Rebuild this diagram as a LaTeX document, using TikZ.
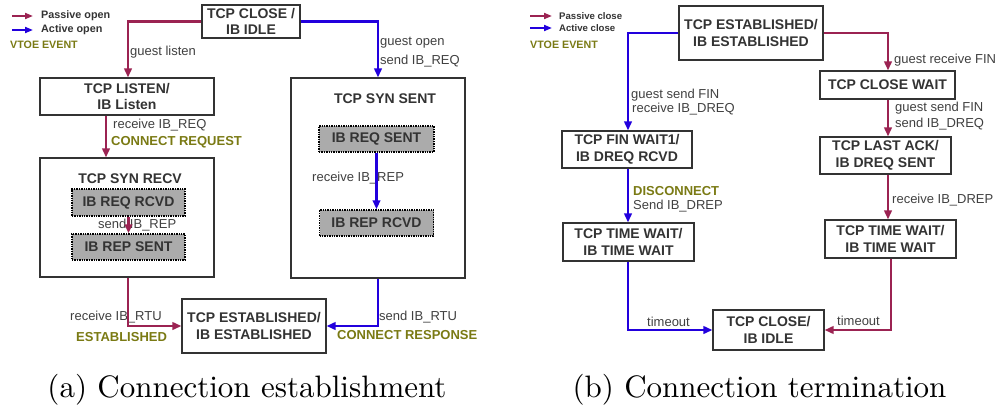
\documentclass[tikz,border=0pt]{standalone}
\usepackage{fontspec}
\newfontfamily\arialf{Liberation Sans}
\newfontfamily\capfont{lmroman10-regular.otf}
\usetikzlibrary{arrows.meta}
\definecolor{pcol}{HTML}{9B2352}
\definecolor{bcol}{HTML}{2200DD}
\definecolor{ocol}{HTML}{7A7A14}
\definecolor{tcol}{HTML}{333333}
\definecolor{lcol}{HTML}{404040}
\definecolor{gfill}{HTML}{ABABAB}
\begin{document}
\begin{tikzpicture}[x=1pt,y=-1pt,
  box/.style 2 args={draw=tcol, line width=1.1pt, fill=white, text=tcol,
    font=\arialf\bfseries\fontsize{14}{16.5}\selectfont, align=center,
    inner sep=0pt, minimum width=#1, minimum height=#2},
  gbox/.style 2 args={draw=black, densely dotted, line width=1.4pt, fill=gfill, text=tcol,
    font=\arialf\bfseries\fontsize{14}{16.5}\selectfont, align=center,
    inner sep=0pt, minimum width=#1, minimum height=#2},
  ttl/.style={text=tcol, font=\arialf\bfseries\fontsize{14}{16.5}\selectfont, inner sep=0pt},
  lbl/.style={anchor=west, text=lcol, font=\arialf\fontsize{13}{15}\selectfont, inner sep=0pt},
  ev/.style={anchor=west, text=ocol, font=\arialf\bfseries\fontsize{13}{15}\selectfont, inner sep=0pt},
  leg/.style={anchor=west, text=tcol, font=\arialf\bfseries\fontsize{#1}{12}\selectfont, inner sep=0pt},
  legev/.style={anchor=west, text=ocol, font=\arialf\bfseries\fontsize{10.7}{12}\selectfont, inner sep=0pt},
  pa/.style={draw=pcol, line width=2.2pt, -{Triangle[length=9pt,width=7.5pt]}},
  ba/.style={draw=bcol, line width=2.2pt, -{Triangle[length=9pt,width=7.5pt]}},
  captxt/.style={inner sep=0pt, font=\capfont\fontsize{31}{36}\selectfont}
]
\useasboundingbox (0,0) rectangle (998,415);

% ---------------- (a) Connection establishment ----------------
% legend
\coordinate (la1) at (12,16); \coordinate (la2) at (33,16);
\coordinate (lb1) at (12,30); \coordinate (lb2) at (33,30);
\draw[pcol, line width=1.8pt, -{Triangle[length=8pt,width=6pt]}] (la1) -- (la2);
\draw[bcol, line width=1.8pt, -{Triangle[length=8pt,width=6pt]}] (lb1) -- (lb2);
\node[leg=10.8] (lt1) at (41,16) {Passive open};
\node[leg=10.8] (lt2) at (41,30) {Active open};
\node[legev] (lt3) at (10,45) {VTOE EVENT};

% states
\node[box={98pt}{33pt}] (close) at (251,21.5) {TCP CLOSE /\\IB IDLE};
\node[box={174pt}{37pt}] (listen) at (127,96.5) {TCP LISTEN/\\IB Listen};
\node[box={174pt}{119pt}] (synrecv) at (127,217.5) {};
\node[ttl] (synrecvt) at (130,179) {TCP SYN RECV};
\node[box={174pt}{200pt}] (synsent) at (378,178) {};
\node[ttl] (synsentt) at (385,99) {TCP SYN SENT};
\node[box={144pt}{54pt}] (est) at (254,326) {TCP ESTABLISHED/\\IB ESTABLISHED};

% labels
\node[lbl] (l1) at (130,52) {guest listen};
\node[lbl] (l2) at (113,125) {receive IB\_REQ};
\node[ev] (l3) at (111,142) {CONNECT REQUEST};
\node[lbl] (l4) at (98,225) {send IB\_REP};
\node[lbl] (l5) at (70,317) {receive IB\_RTU};
\node[ev] (l6) at (76,337) {ESTABLISHED};
\node[lbl] (l7) at (380,43) {guest open};
\node[lbl] (l8) at (380,61) {send IB\_REQ};
\node[lbl] (l9) at (312,178) {receive IB\_REP};
\node[lbl] (l10) at (379,317) {send IB\_RTU};
\node[ev] (l11) at (337,335) {CONNECT RESPONSE};

\node[gbox={113pt}{27pt}] (reqrcvd) at (128.5,202.5) {IB REQ RCVD};
\node[gbox={113pt}{26pt}] (repsent) at (128.5,247) {IB REP SENT};
\node[gbox={115pt}{26pt}] (reqsent) at (376.5,139) {IB REQ SENT};
\node[gbox={114pt}{26pt}] (reprcvd) at (376.5,223) {IB REP RCVD};

% connectors
\coordinate (xl) at (128,0);
\coordinate (xr) at (106,0);
\draw[pa] (close.west) -| (listen.north -| xl);
\draw[pa] (listen.south -| xr) -- (synrecv.north -| xr);
\draw[pa] (reqrcvd.south) -- (repsent.north);
\draw[pa] (synrecv.south -| xl) |- (est.west);
\draw[ba] (close.east) -| (synsent.north);
\draw[ba] (reqsent.south) -- (reprcvd.north);
\draw[ba] (synsent.south) |- (est.east);

% ---------------- (b) Connection termination ----------------
\coordinate (ra1) at (530,16); \coordinate (ra2) at (552,16);
\coordinate (rb1) at (530,28); \coordinate (rb2) at (552,28);
\draw[pcol, line width=1.8pt, -{Triangle[length=8pt,width=6pt]}] (ra1) -- (ra2);
\draw[bcol, line width=1.8pt, -{Triangle[length=8pt,width=6pt]}] (rb1) -- (rb2);
\node[leg=9.6] (rt1) at (559,16) {Passive close};
\node[leg=9.6] (rt2) at (559,28) {Active close};
\node[legev] (rt3) at (530,45) {VTOE EVENT};

\node[box={144pt}{54pt}] (est2) at (751,33) {TCP ESTABLISHED/\\IB ESTABLISHED};
\node[box={130pt}{37pt}] (finwait) at (627,149.5) {TCP FIN WAIT1/\\IB DREQ RCVD};
\node[box={131pt}{38pt}] (tw1) at (628.5,242) {TCP TIME WAIT/\\IB TIME WAIT};
\node[box={111pt}{40pt}] (close2) at (768.5,330) {TCP CLOSE/\\IB IDLE};
\node[box={135pt}{28pt}] (closewait) at (887.5,85) {TCP CLOSE WAIT};
\node[box={131pt}{37pt}] (lastack) at (885.5,155.5) {TCP LAST ACK/\\IB DREQ SENT};
\node[box={131pt}{38pt}] (tw2) at (890.5,239) {TCP TIME WAIT/\\IB TIME WAIT};

\node[lbl] (m1) at (631,95) {guest send FIN};
\node[lbl] (m2) at (632,109) {receive IB\_DREQ};
\node[ev] (m3) at (633,191) {DISCONNECT};
\node[lbl] (m4) at (633,206) {Send IB\_DREP};
\node[lbl] (m5) at (647,322) {timeout};
\node[lbl] (m6) at (894,60) {guest receive FIN};
\node[lbl] (m7) at (895,108) {guest send FIN};
\node[lbl] (m8) at (895,124) {send IB\_DREQ};
\node[lbl] (m9) at (892,200) {receive IB\_DREP};
\node[lbl] (m10) at (837,321) {timeout};

\coordinate (xa) at (628,0);
\coordinate (xb) at (888,0);
\coordinate (xc) at (891,0);
\draw[ba] (est2.west) -| (finwait.north -| xa);
\draw[ba] (finwait.south -| xa) -- (tw1.north -| xa);
\draw[ba] (tw1.south -| xa) |- (close2.west);
\draw[pa] (est2.east) -| (closewait.north -| xb);
\draw[pa] (closewait.south -| xb) -- (lastack.north -| xb);
\draw[pa] (lastack.south -| xb) -- (tw2.north -| xb);
\draw[pa] (tw2.south -| xc) |- (close2.east);

% captions
\node[captxt] (capa) at (247,390) {(a) Connection establishment};
\node[captxt] (capb) at (759.5,390) {(b) Connection termination};
\end{tikzpicture}
\end{document}
